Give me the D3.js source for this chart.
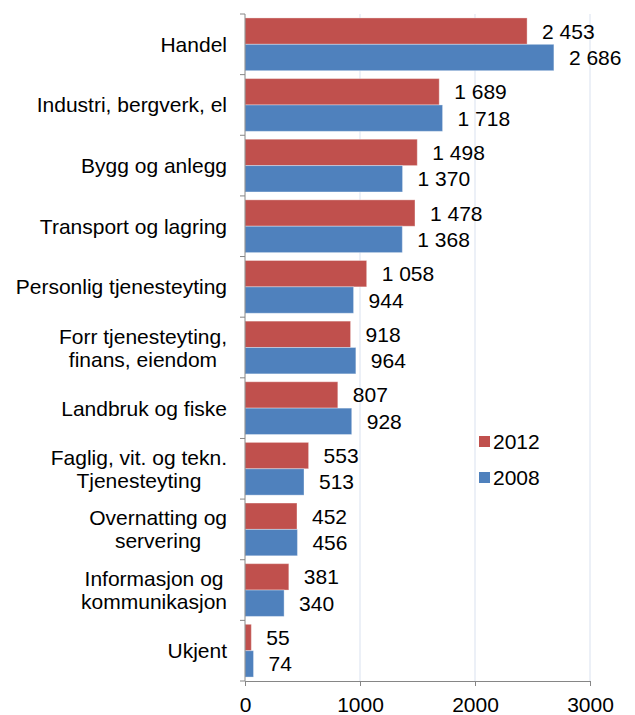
<!DOCTYPE html>
<html>
<head>
<meta charset="utf-8">
<script src="https://cdn.jsdelivr.net/npm/d3@7"></script>
<style>
	body { margin: 0; background: #fff; }
	text { font-family: "Liberation Sans", Arial, sans-serif; fill: #000; }
</style>
</head>
<body>
<div id="chart"></div>
<script>
// category labels, lines split as in the original
let categories = [
	['Handel'],
	['Industri, bergverk, el'],
	['Bygg og anlegg'],
	['Transport og lagring'],
	['Personlig tjenesteyting'],
	['Forr tjenesteyting,', 'finans, eiendom'],
	['Landbruk og fiske'],
	['Faglig, vit. og tekn.', 'Tjenesteyting'],
	['Overnatting og', 'servering'],
	['Informasjon og', 'kommunikasjon'],
	['Ukjent']
];
let values2012 = [2453, 1689, 1498, 1478, 1058, 918, 807, 553, 452, 381, 55];
let values2008 = [2686, 1718, 1370, 1368, 944, 964, 928, 513, 456, 340, 74];
let xTicks = [0, 1000, 2000, 3000];
let seriesNames = ['2012', '2008'];
let seriesColors = ['#C0504D', '#4F81BD'];

let svgW = 635, svgH = 715;
let plotLeft = 245, plotRight = 590, plotTop = 14, plotBottom = 681;
let fontSize = '21px';

let svg = d3.select('#chart').append('svg')
		.attr('width', svgW)
		.attr('height', svgH);

let x = d3.scaleLinear().domain([0, 3000]).range([plotLeft, plotRight]);
let y = d3.scaleBand().domain(d3.range(categories.length)).range([plotTop, plotBottom]).paddingInner(0.13).paddingOuter(0.065);
let inner = d3.scaleBand().domain([0, 1]).range([0, y.bandwidth()]);

let fmt = v => d3.format(',')(v).replace(/,/g, ' ');

// gridlines
svg.append('g')
		.selectAll('line')
		.data(xTicks.slice(1))
		.enter()
		.append('line')
		.attr('x1', d => x(d)).attr('x2', d => x(d))
		.attr('y1', plotTop).attr('y2', plotBottom)
		.style('stroke', '#D9E1EF')
		.style('stroke-width', 1);

let rows = categories.map((c, i) => ({i: i, vals: [values2012[i], values2008[i]]}));

let groups = svg.append('g')
		.selectAll('g')
		.data(rows)
		.enter()
		.append('g')
		.attr('transform', d => `translate(0,${y(d.i)})`);

groups.selectAll('rect')
		.data(d => d.vals.map((v, k) => ({v: v, k: k})))
		.enter()
		.append('rect')
		.attr('x', x(0))
		.attr('y', d => inner(d.k))
		.attr('width', d => x(d.v) - x(0))
		.attr('height', inner.bandwidth())
		.attr('fill', d => seriesColors[d.k])
		.style('stroke', 'rgba(255,255,255,0.35)')
		.style('stroke-width', 1);

groups.selectAll('text.val')
		.data(d => d.vals.map((v, k) => ({v: v, k: k})))
		.enter()
		.append('text')
		.attr('class', 'val')
		.attr('x', d => x(d.v) + 15)
		.attr('y', d => inner(d.k) + inner.bandwidth() / 2 + 7.5)
		.style('font-size', fontSize)
		.text(d => fmt(d.v));

// category labels: block is right aligned, lines centred inside the block
let step = (plotBottom - plotTop) / categories.length;
let lineH = 23;
let labelRight = 227;
let labels = svg.append('g')
		.selectAll('text')
		.data(categories)
		.enter()
		.append('text')
		.attr('text-anchor', 'middle')
		.style('font-size', fontSize)
		.attr('y', (d, i) => plotTop + step * (i + 0.5) + 7.5 - (d.length - 1) * lineH / 2);

labels.selectAll('tspan')
		.data(d => d)
		.enter()
		.append('tspan')
		.attr('dy', (d, j) => j === 0 ? 0 : lineH)
		.text(d => d);

labels.each(function() {
	let spans = d3.select(this).selectAll('tspan');
	let maxW = d3.max(spans.nodes(), n => n.getComputedTextLength());
	spans.attr('x', labelRight - maxW / 2);
});

// y axis line and ticks
svg.append('line')
		.attr('x1', plotLeft).attr('x2', plotLeft)
		.attr('y1', plotTop).attr('y2', plotBottom)
		.style('stroke', '#868686');
svg.append('g')
		.selectAll('line')
		.data(d3.range(categories.length + 1))
		.enter()
		.append('line')
		.attr('x1', plotLeft - 5).attr('x2', plotLeft)
		.attr('y1', i => plotTop + step * i).attr('y2', i => plotTop + step * i)
		.style('stroke', '#868686');

// x axis
let xAxis = svg.append('g')
		.attr('transform', `translate(0,${plotBottom})`)
		.call(d3.axisBottom(x).tickValues(xTicks).tickSize(5).tickFormat(d3.format('d')));
xAxis.select('.domain').style('stroke', '#868686');
xAxis.selectAll('.tick line').style('stroke', '#868686');
xAxis.selectAll('text')
		.attr('y', 31)
		.attr('dy', 0)
		.style('font-size', fontSize)
		.style('font-family', '"Liberation Sans", Arial, sans-serif');

// legend
let legend = svg.append('g')
		.selectAll('g')
		.data(seriesNames)
		.enter()
		.append('g')
		.attr('transform', (d, i) => `translate(479,${436 + i * 36})`);
legend.append('rect')
		.attr('width', 11).attr('height', 11)
		.attr('fill', (d, i) => seriesColors[i]);
legend.append('text')
		.attr('x', 14).attr('y', 12.5)
		.style('font-size', fontSize)
		.text(d => d);
</script>
</body>
</html>
